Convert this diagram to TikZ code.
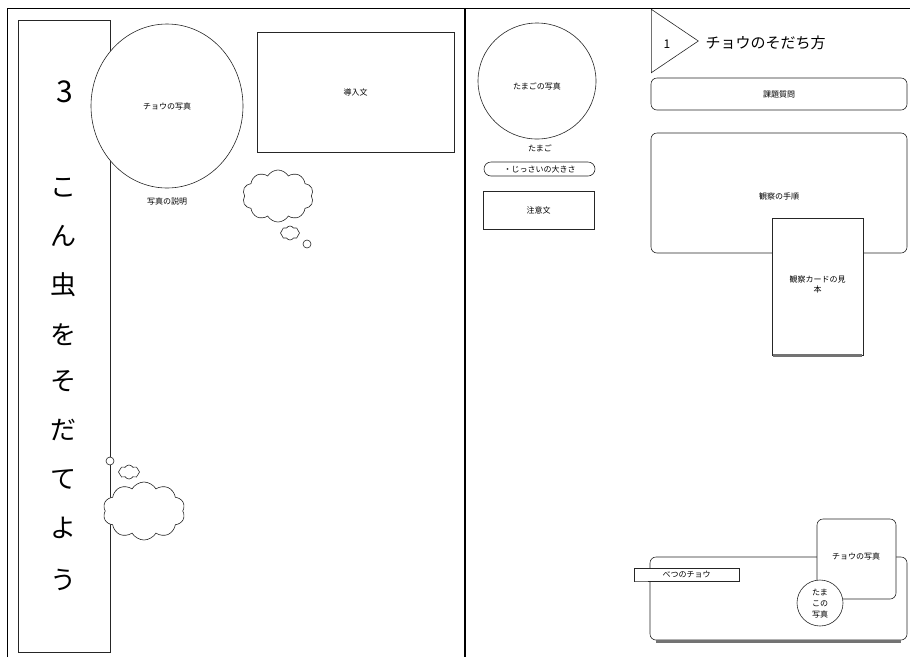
\documentclass[tikz,border=0pt]{standalone}
\usepackage{fontspec}
\setmainfont{Noto Sans CJK JP}
\usetikzlibrary{shapes.symbols,shapes.geometric}
\tikzset{
  ln/.style={draw=black!85, line width=0.6pt},
  sm/.style={font=\fontsize{8}{10}\selectfont},
  box/.style={ln, fill=white, rectangle, inner sep=0pt},
  rbox/.style={ln, fill=white, rectangle, rounded corners=6pt, inner sep=0pt},
  oval/.style={ln, fill=white, ellipse, inner sep=0pt},
  puff/.style={ln, fill=white, cloud, cloud puffs=10, cloud puff arc=120, inner sep=0pt},
  big/.style={font=\fontsize{26}{28}\selectfont},
  shadow/.style={draw=black!55, line width=2.5pt},
}
\begin{document}
\begin{tikzpicture}[x=1pt,y=-1pt]
\useasboundingbox (0,0) rectangle (915,657);
% page frames
\coordinate (tl) at (7,8);
\coordinate (tr) at (910,8);
\coordinate (bl) at (7,657);
\coordinate (mt) at (465,8);
\coordinate (mb) at (465,657);
\draw[line width=0.9pt] (bl) -- (tl) -- (tr);
\draw[line width=1.8pt] (mt) -- (mb);

% ===== left page =====
\node[box, minimum width=92, minimum height=632] (title) at (64,336) {};
\node[font=\fontsize{30}{32}\selectfont] (num) at (65,92) {3};
\foreach \c/\y [count=\i] in {こ/188,ん/236,虫/285,を/335,そ/381,だ/430,て/479,よ/528,う/580}{
  \node[big] (t\i) at (63,\y) {\c};
}
\node[oval, minimum width=152, minimum height=164] (bphoto) at (167,106) {};
\node[sm] (bphotot) at (167,106) {チョウの写真};
\node[sm] (bdesc) at (167,201) {写真の説明};
\node[box, minimum width=197, minimum height=120, sm] (intro) at (355.5,92) {導入文};

\node[puff, aspect=1.4, minimum width=71, minimum height=52] (c1) at (278,196) {};
\node[puff, cloud puffs=8, aspect=1.3, minimum width=19, minimum height=14] (c1s) at (290,233) {};
\node[ln, circle, minimum size=8, inner sep=0pt] (c1t) at (307,244) {};

\node[puff, aspect=1.4, minimum width=82, minimum height=58] (c2) at (144,511) {};
\node[puff, cloud puffs=8, aspect=1.4, minimum width=21, minimum height=14] (c2s) at (129,472) {};
\node[ln, fill=white, circle, minimum size=8, inner sep=0pt] (c2t) at (110,461) {};

% ===== right page =====
\node[oval, minimum width=118, minimum height=116] (egg) at (537,81) {};
\node[sm] (eggt) at (537,86) {たまごの写真};
\node[sm] (eggl) at (540,148) {たまご};
\node[rbox, rounded corners=7pt, minimum width=111, minimum height=14, sm] (size) at (539.5,169) {・じっさいの大きさ};
\node[box, minimum width=111, minimum height=38, sm] (note) at (538.5,210) {注意文};

\node[ln, isosceles triangle, isosceles triangle apex angle=68, minimum height=47, inner sep=0pt, anchor=west] (tri) at (651,41) {};
\node[font=\fontsize{12}{14}\selectfont] (one) at (667,44) {1};
\node[font=\fontsize{15}{17}\selectfont, anchor=west] (head) at (702,43) {チョウのそだち方};

\node[rbox, minimum width=256, minimum height=32, sm] (q) at (779,94) {課題質問};
\node[rbox, minimum width=256, minimum height=120] (steps) at (779,193) {};
\node[sm] (stepst) at (779,196) {観察の手順};
\node[box, minimum width=91, minimum height=137] (card) at (817.5,286.5) {};
\draw[shadow] ([xshift=1pt]card.south west) -- ([xshift=-1pt]card.south east);
\node[sm, align=center] (cardt) at (817.5,284) {観察カードの見\\本};

\node[rbox, minimum width=257, minimum height=83] (other) at (778.5,598.5) {};
\draw[shadow] ([xshift=6pt,yshift=-1pt]other.south west) -- ([xshift=-6pt,yshift=-1pt]other.south east);
\node[rbox, minimum width=79, minimum height=80, sm] (bf) at (856.5,559) {};
\node[sm] (bft) at (856,556) {チョウの写真};
\node[ln, fill=white, circle, minimum size=46, inner sep=0pt] (se) at (820,603) {};
\node[sm, align=center, font=\fontsize{8}{11}\selectfont] (set) at (820,604) {たま\\この\\写真};
\node[box, minimum width=105, minimum height=13, sm] (lab) at (686.5,574.5) {べつのチョウ};
\draw[shadow, line width=1.5pt] ([xshift=1pt]lab.south west) -- ([xshift=14pt]lab.south west);
\end{tikzpicture}
\end{document}
